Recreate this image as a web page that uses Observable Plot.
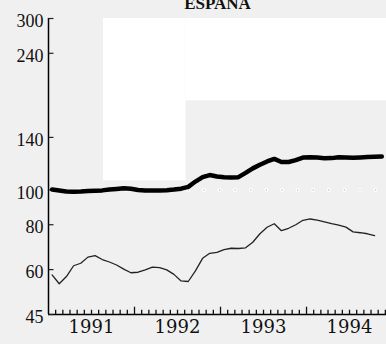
<!DOCTYPE html>
<html><head><meta charset="utf-8">
<script src="https://cdn.jsdelivr.net/npm/d3@7"></script>
<script src="https://cdn.jsdelivr.net/npm/@observablehq/plot@0.6"></script>
<style>body{margin:0;background:#fff}#chart svg{display:block}</style>
</head><body><div id="chart"></div>
<script>
const title = "ESPAÑA";
const startYear = 1991;
const yearLabels = [1991, 1992, 1993, 1994];
const yTicks = [45, 60, 80, 100, 140, 240, 300];
// monthly values, Jan 1991 onward
const thickSeries = [100.2, 99.6, 99.0, 98.9, 99.0, 99.3, 99.5, 99.7, 100.2, 100.6, 101.1, 100.8,
  99.9, 99.6, 99.6, 99.6, 99.8, 100.2, 100.8, 102.0, 105.5, 108.5, 110.0, 109.0,
  108.4, 108.2, 108.5, 111.5, 114.8, 117.5, 120.0, 122.0, 119.6, 119.6, 121.0, 123.0,
  123.3, 123.0, 122.5, 122.6, 123.2, 123.0, 122.8, 123.1, 123.4, 123.6, 123.8];
const thinSeries = [58.0, 54.8, 57.4, 61.5, 62.5, 65.0, 65.6, 64.0, 63.0, 61.8, 60.2, 58.8,
  59.0, 59.9, 61.0, 60.8, 59.9, 58.2, 55.8, 55.6, 59.5, 64.5, 66.6, 67.0,
  68.2, 68.8, 68.7, 69.0, 71.5, 75.5, 78.7, 80.5, 77.0, 78.2, 80.0, 82.3,
  83.0, 82.4, 81.5, 80.6, 79.8, 78.8, 76.4, 76.0, 75.5, 74.6];
// background shading blocks of the scanned original
const bgWhite = [
  {x1: 1991.64, x2: 1992.6, y1: 106, y2: 300},
  {x1: 1992.6, x2: 1994.93, y1: 177, y2: 300}
];

const monthPos = i => startYear + (i + 0.5) / 12;
const thickData = thickSeries.map((v, i) => ({t: monthPos(i), v}));
const thinData = thinSeries.map((v, i) => ({t: monthPos(i), v}));
// tick glyphs (short marks pointing into the plot)
const xTickMarks = [];
for (let i = 1; i < 48; i++) {
  const major = i % 12 === 0;
  xTickMarks.push({t: startYear + i / 12, a: 45, b: major ? 47.3 : 46.4});
}
const yTickMarks = yTicks.map(v => ({v, a: 1991, b: 1991.058}));
const labelPos = yearLabels.map(y => y + 0.5);

const chart = Plot.plot({
  width: 386, height: 344,
  marginLeft: 48, marginRight: 0, marginTop: 18, marginBottom: 30,
  style: {background: "#f0f0f0", color: "#111", overflow: "hidden"},
  x: {domain: [1991, 1994.93], axis: null},
  y: {type: "log", domain: [45, 300], axis: null},
  marks: [
    Plot.rect(bgWhite, {x1: "x1", x2: "x2", y1: "y1", y2: "y2", fill: "#fff"}),
    Plot.ruleY([100], {stroke: "#fff", strokeWidth: 4, strokeDasharray: "0,15.6", strokeLinecap: "round"}),
    Plot.ruleY([100], {stroke: "#bbb", strokeWidth: 1.5, strokeDasharray: "0,15.6", strokeLinecap: "round"}),
    Plot.axisX({ticks: labelPos, tickSize: 0, tickPadding: 6, tickFormat: d => String(Math.floor(d)),
      label: null, fontSize: 18, fontFamily: "DejaVu Serif", fill: "#111"}),
    Plot.axisY({ticks: yTicks, tickSize: 0, tickPadding: 5, dy: 3, tickFormat: d => String(d),
      label: null, fontSize: 18, fontFamily: "Liberation Serif", fill: "#111"}),
    Plot.ruleY([45], {stroke: "#000", strokeWidth: 1.5}),
    Plot.ruleX([1991], {stroke: "#000", strokeWidth: 1.5}),
    Plot.link(xTickMarks, {x1: "t", x2: "t", y1: "a", y2: "b", stroke: "#111", strokeWidth: 1.3}),
    Plot.link(yTickMarks, {x1: "a", x2: "b", y1: "v", y2: "v", stroke: "#222", strokeWidth: 1.2}),
    Plot.line(thinData, {x: "t", y: "v", stroke: "#222", strokeWidth: 1.3}),
    Plot.line(thickData, {x: "t", y: "v", stroke: "#000", strokeWidth: 4.5, strokeLinejoin: "round"}),
    Plot.text([title], {frameAnchor: "top", lineAnchor: "bottom", dy: -10, fontSize: 17,
      fontWeight: "bold", fontFamily: "Liberation Serif", fill: "#111"})
  ]
});
document.getElementById("chart").appendChild(chart);
</script>
</body></html>
